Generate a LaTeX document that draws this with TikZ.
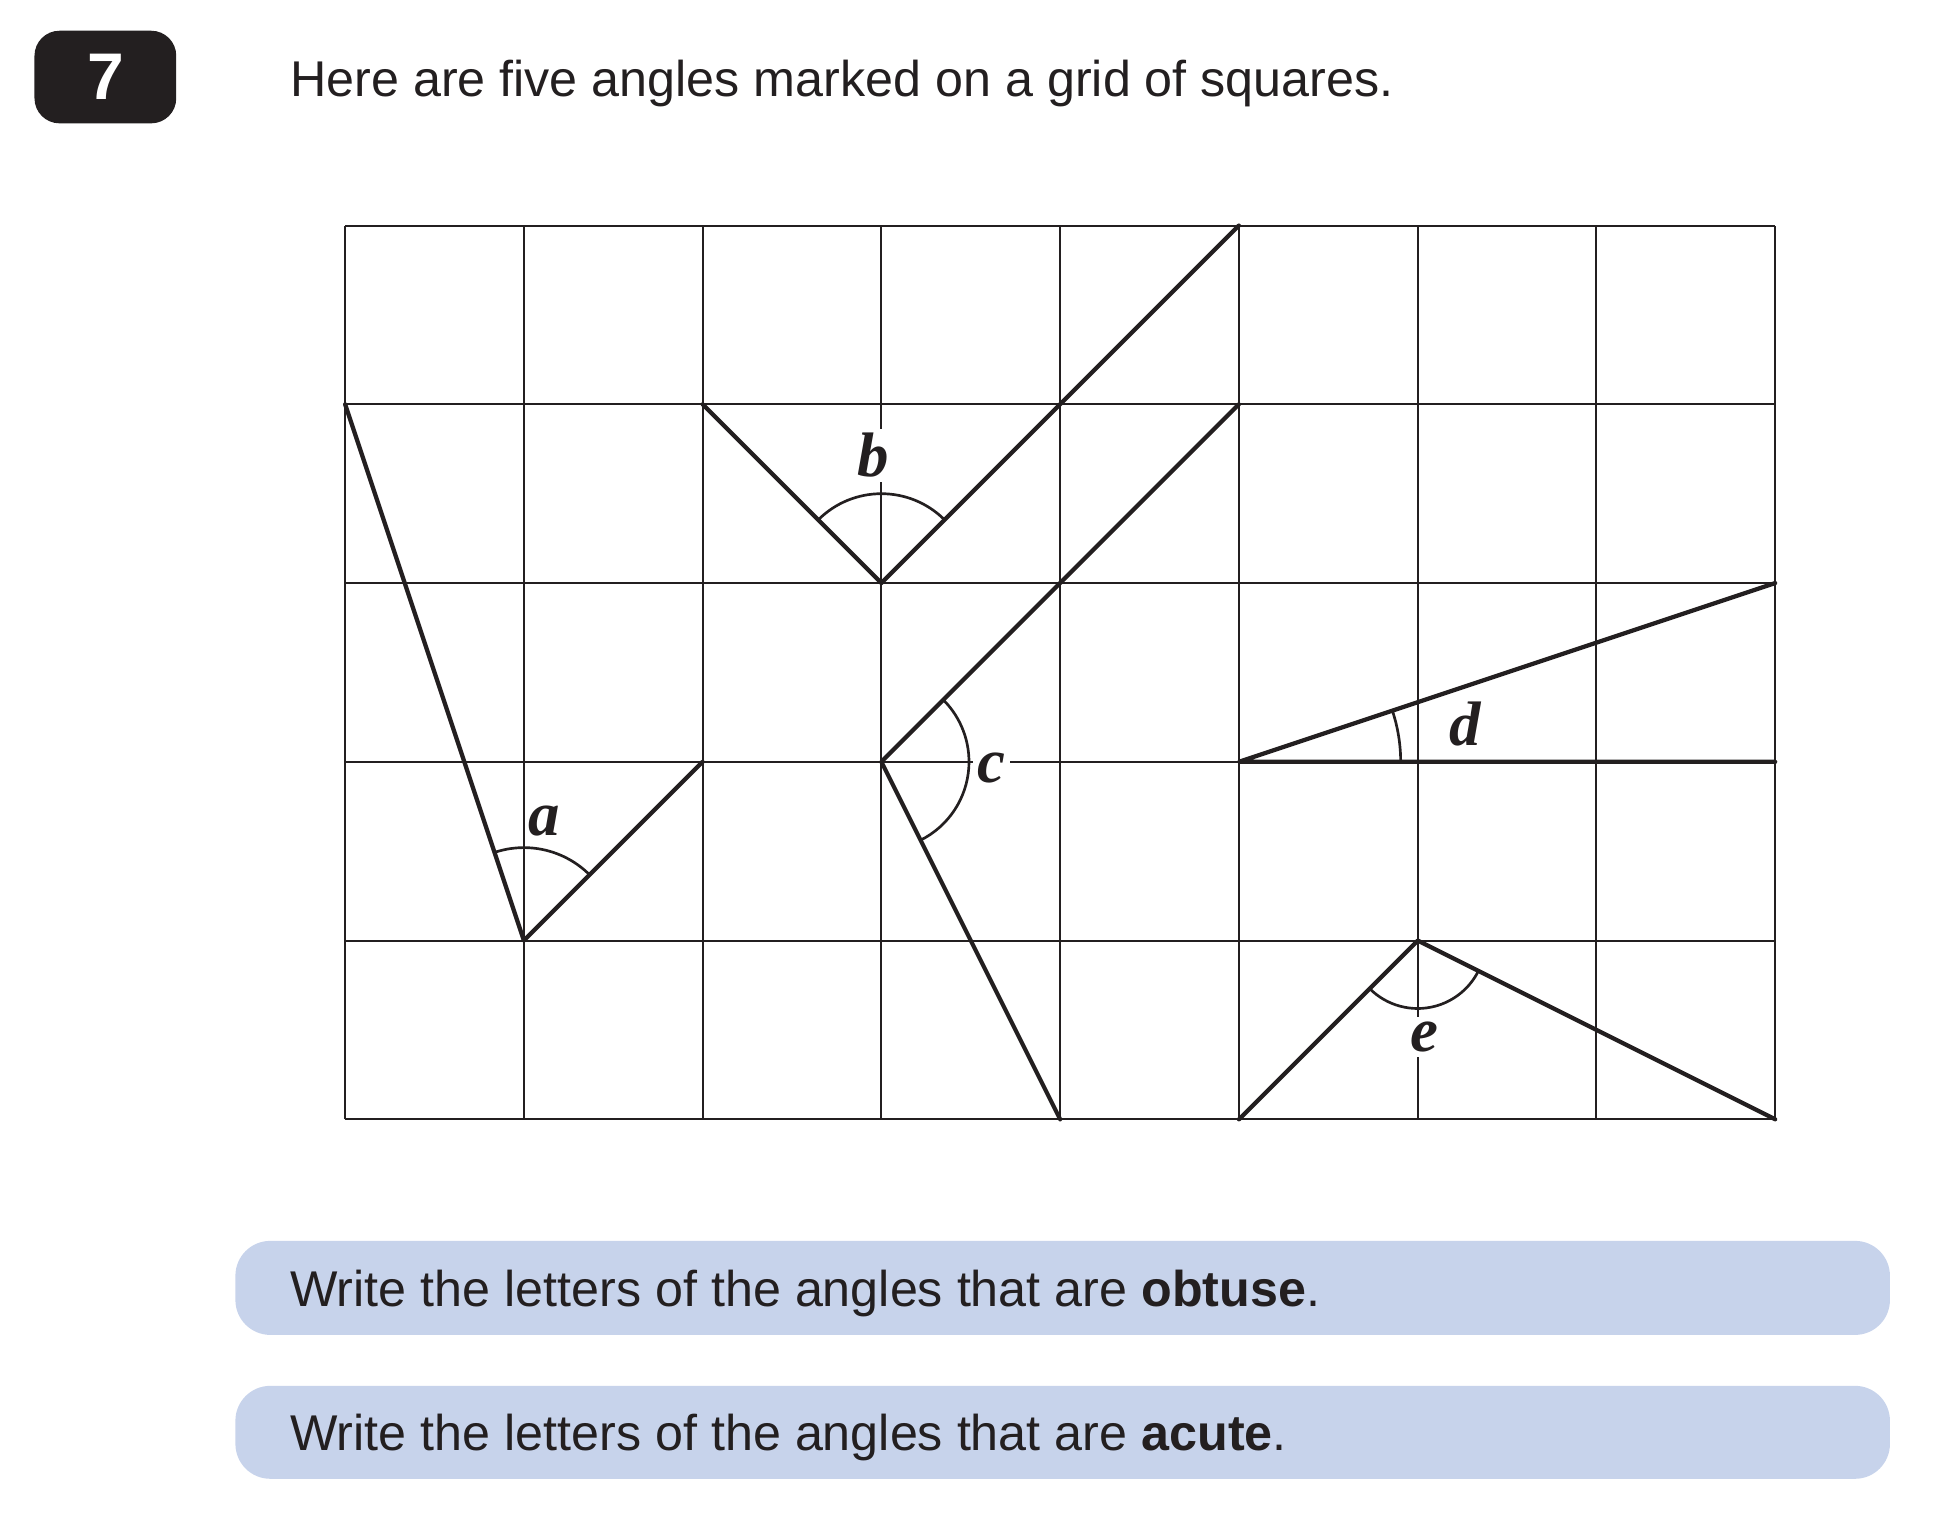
\documentclass[tikz,border=0pt]{standalone}
\usepackage{fontspec}
\setmainfont{Liberation Sans}
\newfontfamily\letterfont{Liberation Serif}
\usetikzlibrary{angles}
\definecolor{ink}{RGB}{35,31,32}
\definecolor{answerblue}{RGB}{199,211,235}
\tikzstyle{grid line}=[line width=0.65pt, draw=ink]
\tikzstyle{arm}=[line width=1.35pt, draw=ink, line cap=round, line join=round]
\tikzstyle{anglearc}=[draw=ink, line width=0.85pt]
\tikzstyle{letter}=[font=\letterfont\bfseries\itshape\fontsize{20}{24}\selectfont, text=ink, inner sep=1.5pt]
\tikzstyle{letter on line}=[letter, fill=white]
\tikzstyle{answer box}=[fill=answerblue, rounded corners=0.39cm]
\tikzstyle{question}=[font=\fontsize{16}{19}\selectfont, text=ink, anchor=base west, inner sep=0pt]

\begin{document}
\begin{tikzpicture}[x=2cm, y=2cm]
      \useasboundingbox (-1.931,-2.314) rectangle (8.883,6.262);

      % question number and text
      \node[fill=ink, rounded corners=0.28cm, minimum width=1.586cm, minimum height=1.036cm,
            inner sep=0pt, text=white, font=\bfseries\fontsize{21}{24}\selectfont] (number) at (-1.3415,5.831) {7};
      \node[question] (title) at (-0.3105,5.720) {Here are five angles marked on a grid of squares.};

      \draw[grid line, step=2cm] (0,0) grid (8,5);

      % labels first, so that the white ones cut the grid lines
      \node[letter] (label_a) at (1.112,1.669) {a};
      \node[letter on line] (label_b) at (2.955,3.714) {b};
      \node[letter on line] (label_c) at (3.614,1.967) {c};
      \node[letter] (label_d) at (6.264,2.210) {d};
      \node[letter on line] (label_e) at (6.039,0.459) {e};

      \coordinate (a) at (1, 1);
      \coordinate (a1) at (0, 4);
      \coordinate (a2) at (2, 2);

      \coordinate (b) at (3, 3);
      \coordinate (b1) at (2, 4);
      \coordinate (b2) at (5, 5);

      \coordinate (c) at (3, 2);
      \coordinate (c1) at (5, 4);
      \coordinate (c2) at (4, 0);

      \coordinate (d) at (5, 2);
      \coordinate (d1) at (8, 3);
      \coordinate (d2) at (8, 2);

      \coordinate (e) at (6, 1);
      \coordinate (e1) at (5, 0);
      \coordinate (e2) at (8, 0);

      \draw[arm] (a1) -- (a) -- (a2);
      \draw[arm] (b1) -- (b) -- (b2);
      \draw[arm] (c1) -- (c) -- (c2);
      \draw[arm] (d1) -- (d) -- (d2);
      \draw[arm] (e1) -- (e) -- (e2);

      \pic[anglearc, angle radius=1.04cm] {angle = a2--a--a1};
      \pic[anglearc, angle radius=1.0cm] {angle = b2--b--b1};
      \pic[anglearc, angle radius=0.98cm] {angle = c2--c--c1};
      \pic[anglearc, angle radius=1.81cm] {angle = d2--d--d1};
      \pic[anglearc, angle radius=0.76cm] {angle = e1--e--e2};

      % answer boxes
      \fill[answer box] (-0.614,-0.680) rectangle (8.642,-1.206);
      \fill[answer box] (-0.614,-1.491) rectangle (8.642,-2.011);
      \node[question] (obtuse) at (-0.310,-1.048) {Write the letters of the angles that are \textbf{obtuse}.};
      \node[question] (acute) at (-0.310,-1.855) {Write the letters of the angles that are \textbf{acute}.};
    \end{tikzpicture}
\end{document}
